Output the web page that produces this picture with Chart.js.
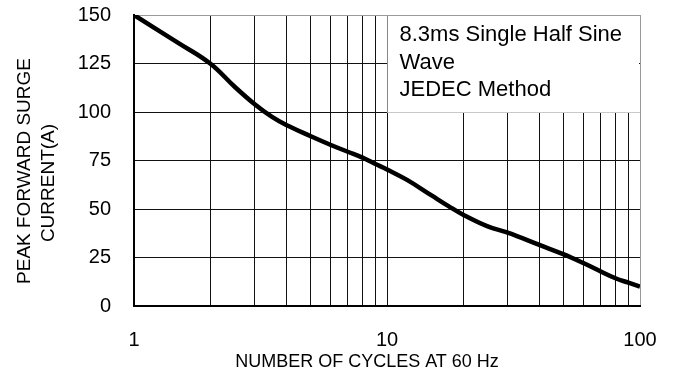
<!DOCTYPE html>
<html>
<head>
<meta charset="utf-8">
<script src="https://cdn.jsdelivr.net/npm/chart.js@4/dist/chart.umd.min.js"></script>
<style>
html,body{margin:0;padding:0;background:#fff;}
#wrap{width:673px;height:374px;}
</style>
</head>
<body>
<div id="wrap"><canvas id="c" width="673" height="374"></canvas></div>
<script>
const cycles = [1, 1.5, 2, 2.5, 3, 3.5, 4, 5, 6, 7, 8, 9, 10, 12, 15, 17.5, 20, 25, 30, 40, 50, 60, 70, 80, 90, 100];
const current = [150, 135.5, 125, 113, 104, 97.6, 93.3, 87.5, 83, 79.5, 76.5, 73.2, 70.4, 65, 57, 51.5, 47, 41, 37.8, 31.5, 26.6, 22, 17.8, 14.3, 12, 10];
const xGridTicks = [1, 2, 3, 4, 5, 6, 7, 8, 9, 10, 20, 30, 40, 50, 60, 70, 80, 90, 100];
const xLabelTicks = [1, 10, 100];
const yTicks = [0, 25, 50, 75, 100, 125, 150];
const yTitleLines = ['PEAK FORWARD SURGE', 'CURRENT(A)'];
const xTitle = 'NUMBER OF CYCLES AT 60 Hz';
const noteLines = ['8.3ms Single Half Sine', 'Wave', 'JEDEC Method'];

const FONT = '"Liberation Sans", Arial, sans-serif';

const overlay = {
  id: 'overlay',
  afterDraw(chart) {
    const ctx = chart.ctx;
    const xs = chart.scales.x;
    const area = chart.chartArea;
    const bx = xs.getPixelForValue(10) + 0.5;
    const by = area.top;
    const bw = area.right - bx;
    const bh = 97;
    ctx.save();
    ctx.fillStyle = '#fff';
    ctx.fillRect(bx, by + 1, bw - 1, bh);
    ctx.strokeStyle = '#c8c8c8';
    ctx.lineWidth = 1;
    ctx.beginPath();
    ctx.moveTo(bx, by + bh + 0.5);
    ctx.lineTo(area.right, by + bh + 0.5);
    ctx.stroke();
    ctx.fillStyle = '#000';
    ctx.font = '22px ' + FONT;
    ctx.textBaseline = 'middle';
    ctx.textAlign = 'left';
    noteLines.forEach((t, i) => ctx.fillText(t, bx + 12, by + 20 + i * 27.5));
    ctx.font = '19px ' + FONT;
    ctx.textAlign = 'center';
    const pos = [[25, 171], [49, 183]];
    yTitleLines.forEach((t, i) => {
      ctx.save();
      ctx.translate(pos[i][0], pos[i][1]);
      ctx.rotate(-Math.PI / 2);
      ctx.fillText(t, 0, 0);
      ctx.restore();
    });
    ctx.font = '18px ' + FONT;
    ctx.fillText(xTitle, 367, 362);
    ctx.restore();
  }
};

new Chart(document.getElementById('c'), {
  type: 'line',
  data: {
    datasets: [{
      data: cycles.map((c, i) => ({ x: c, y: current[i] })),
      borderColor: '#000',
      borderWidth: 4.5,
      pointRadius: 0,
      tension: 0.4,
      borderCapStyle: 'butt',
      fill: false
    }]
  },
  options: {
    responsive: false,
    animation: false,
    devicePixelRatio: 1,
    layout: { padding: { top: 15, right: 33, left: 0, bottom: 0 } },
    plugins: { legend: { display: false }, tooltip: { enabled: false } },
    scales: {
      x: {
        type: 'logarithmic',
        min: 1, max: 100,
        afterBuildTicks(scale) { scale.ticks = xGridTicks.map(v => ({ value: v })); },
        afterFit(scale) { scale.height = 68; scale.paddingLeft = 0; scale.paddingRight = 0; },
        ticks: {
          autoSkip: false,
          maxRotation: 0,
          padding: 22,
          color: '#000',
          font: { family: FONT, size: 20 },
          callback: (v) => xLabelTicks.includes(v) ? String(v) : ''
        },
        grid: {
          drawTicks: false,
          color: (c) => (c.tick && c.tick.value === 100) ? '#999' : '#111',
          lineWidth: 1
        },
        border: { color: '#000', width: 2 }
      },
      y: {
        min: 0, max: 150,
        afterBuildTicks(scale) { scale.ticks = yTicks.map(v => ({ value: v })); },
        afterFit(scale) { scale.width = 134; scale.paddingTop = 0; scale.paddingBottom = 0; },
        ticks: {
          padding: 23,
          color: '#000',
          font: { family: FONT, size: 20 }
        },
        grid: {
          drawTicks: false,
          color: (c) => (c.tick && c.tick.value === 150) ? '#999' : '#111',
          lineWidth: 1
        },
        border: { color: '#000', width: 2 }
      }
    }
  },
  plugins: [overlay]
});
</script>
</body>
</html>
